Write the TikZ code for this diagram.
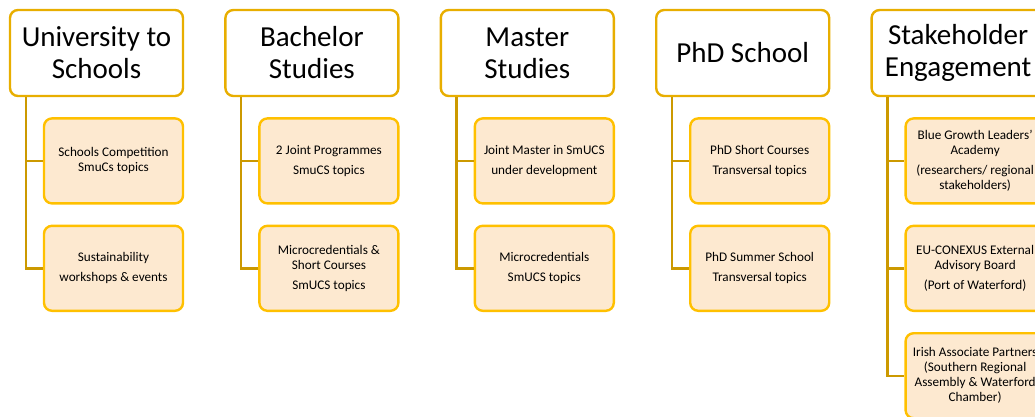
\documentclass[tikz,border=0pt]{standalone}
\usepackage{fontspec}
\setmainfont{Carlito}
\usetikzlibrary{positioning}
\definecolor{headline}{RGB}{232,174,0}
\definecolor{linkline}{RGB}{204,153,0}
\definecolor{itemline}{RGB}{255,192,0}
\definecolor{itemfill}{RGB}{253,233,208}

\begin{document}
\begin{tikzpicture}[x=1pt,y=1pt,% sizes taken straight from the slide
			every node/.style={
				align=center,		% so that "\\" breaks the lines
				rounded corners=8pt,
				line width=2.4pt
			},
			head/.style={draw=headline,fill=white,minimum width=173pt,minimum height=86pt,
				font=\fontsize{29}{32}\selectfont},
			item/.style={draw=itemline,fill=itemfill,minimum width=139pt,minimum height=85pt,
				inner sep=2pt,font=\fontsize{13.2}{15}\selectfont},
			link/.style={draw=linkline,line width=2.4pt},
			node distance=20pt
		]
		\clip (0,0) rectangle (1035,-416);
		\useasboundingbox (0,0) rectangle (1035,-416);
		% top row
		\node[head](H1) at (96.5,-53){University to\\Schools};
		\node[head](H2)[right=40pt of H1]{Bachelor\\Studies};
		\node[head](H3)[right=40pt of H2]{Master\\Studies};
		\node[head](H4)[right=40pt of H3]{PhD School};
		\node[head](H5)[right=40pt of H4]{Stakeholder\\Engagement};
		% boxes under each heading
		\node[item](S11)[below=of H1.south east,anchor=north east]{Schools Competition\\SmuCs topics};
		\node[item](S12)[below=of S11]{Sustainability\\[5pt]workshops \& events};
		\node[item](S21)[below=of H2.south east,anchor=north east]{2 Joint Programmes\\[5pt]SmuCS topics};
		\node[item](S22)[below=of S21]{Microcredentials \&\\Short Courses\\[5pt]SmUCS topics};
		\node[item](S31)[below=of H3.south east,anchor=north east]{Joint Master in SmUCS\\[5pt]under development};
		\node[item](S32)[below=of S31]{Microcredentials\\[5pt]SmUCS topics};
		\node[item](S41)[below=of H4.south east,anchor=north east]{PhD Short Courses\\[5pt]Transversal topics};
		\node[item](S42)[below=of S41]{PhD Summer School\\[5pt]Transversal topics};
		\node[item](S51)[below=of H5.south east,anchor=north east]{Blue Growth Leaders'\\Academy\\[5pt](researchers/ regional\\stakeholders)};
		\node[item](S52)[below=of S51]{EU-CONEXUS External\\Advisory Board\\[5pt](Port of Waterford)};
		\node[item](S53)[below=of S52]{Irish Associate Partners\\(Southern Regional\\Assembly \& Waterford\\Chamber)};
		% connectors
		\coordinate (T1) at ([xshift=17pt]H1.south west);
		\coordinate (T2) at ([xshift=17pt]H2.south west);
		\coordinate (T3) at ([xshift=17pt]H3.south west);
		\coordinate (T4) at ([xshift=17pt]H4.south west);
		\coordinate (T5) at ([xshift=17pt]H5.south west);
		\path[link]
		(T1) |- (S11.west) (T1) |- (S12.west)
		(T2) |- (S21.west) (T2) |- (S22.west)
		(T3) |- (S31.west) (T3) |- (S32.west)
		(T4) |- (S41.west) (T4) |- (S42.west)
		(T5) |- (S51.west) (T5) |- (S52.west) (T5) |- (S53.west)
		;
	\end{tikzpicture}
\end{document}
